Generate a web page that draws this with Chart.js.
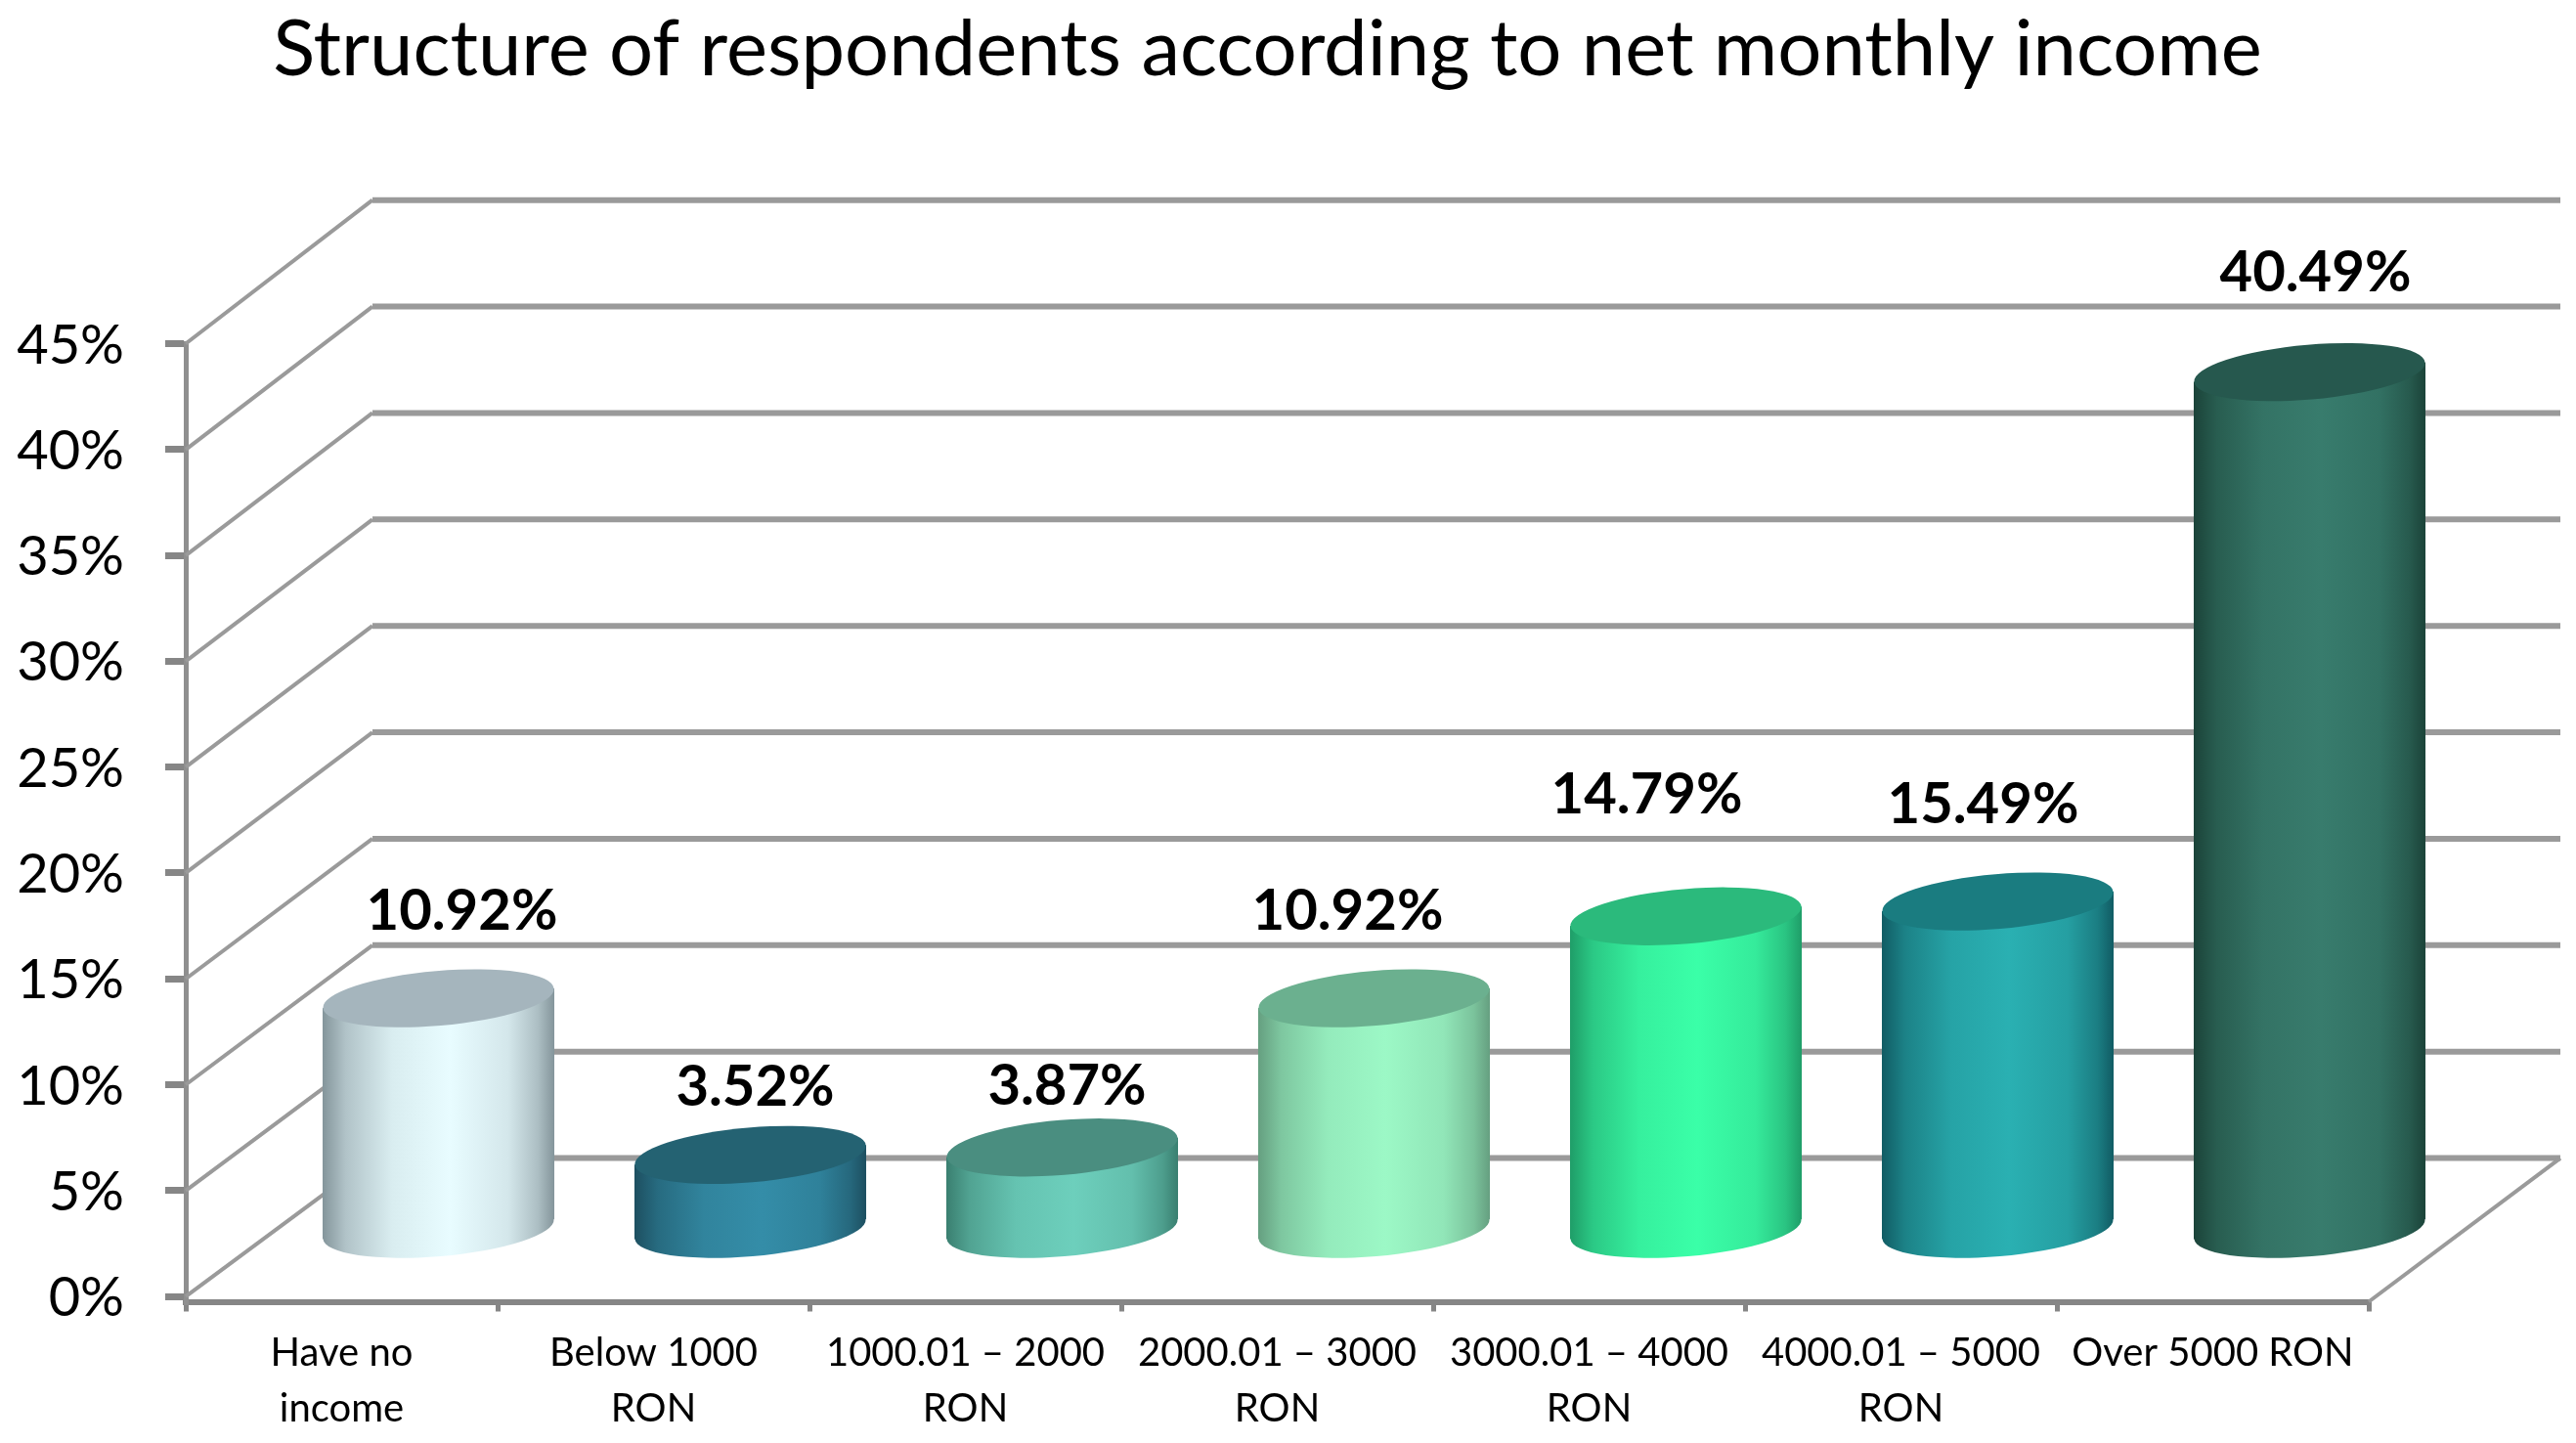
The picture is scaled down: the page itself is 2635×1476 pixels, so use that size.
<!DOCTYPE html>
<html>
<head>
<meta charset="utf-8">
<title>Structure of respondents according to net monthly income</title>
<script src="https://cdn.jsdelivr.net/npm/chart.js@4/dist/chart.umd.min.js"></script>
<style>
html, body { margin: 0; padding: 0; background: #fff; }
#wrap { width: 2635px; height: 1476px; }
</style>
</head>
<body>
<div id="wrap"><canvas id="myChart" width="2635" height="1476"></canvas></div>
<script>
const categories = [
    ['Have no', 'income'],
    ['Below 1000', 'RON'],
    ['1000.01 – 2000', 'RON'],
    ['2000.01 – 3000', 'RON'],
    ['3000.01 – 4000', 'RON'],
    ['4000.01 – 5000', 'RON'],
    'Over 5000 RON'
];
const shares = [10.92, 3.52, 3.87, 10.92, 14.79, 15.49, 40.49];
const yTicks = [0, 5, 10, 15, 20, 25, 30, 35, 40, 45];

// cylinder colours
const edgeColors = ['#84959b', '#1d4f60', '#3a7f70', '#659f80', '#1f9d68', '#115c64', '#1b4339'];
const lightColors = ['#e8fcff', '#348da8', '#6dcfbc', '#9cf8c6', '#3affa8', '#2ab0b2', '#387c6d'];
const topColors = ['#a5b5bd', '#246272', '#4a8e80', '#6bb08f', '#2bba7c', '#1a7c80', '#26584e'];

// hand placed value labels, the original chart has them a bit off the bars
const labelNudge = [[24, -89], [5, -69], [5, -62], [-27, -89], [-40, -124], [-15, -99], [6, -101]];

// back wall is slightly taller than the front axis
const back = { dx: 191, rightDx: 196, zero: -141.5, stretch: 1.0055 };
const barShift = { x: 99, y: -68.5 };
const rx = 118.5, ry = 28, tilt = -0.085;
const capDrop = 3;

function mix(a, b, t) {
    const pa = parseInt(a.slice(1), 16), pb = parseInt(b.slice(1), 16);
    const c = [16, 8, 0].map(s => {
        const va = (pa >> s) & 255, vb = (pb >> s) & 255;
        return Math.round(va + (vb - va) * t);
    });
    return `rgb(${c.join(',')})`;
}

function sideGradient(context) {
    const chart = context.chart, i = context.dataIndex;
    const cx = chart.scales.x ? chart.scales.x.getPixelForValue(i) : NaN;
    // the options get resolved once before the layout is done
    if (!Number.isFinite(cx)) return '#888';
    const g = chart.ctx.createLinearGradient(cx - rx, 0, cx + rx, 0);
    const e = edgeColors[i], l = lightColors[i];
    g.addColorStop(0, e);
    g.addColorStop(0.1, mix(e, l, 0.45));
    g.addColorStop(0.3, mix(e, l, 0.85));
    g.addColorStop(0.55, l);
    g.addColorStop(0.8, mix(e, l, 0.8));
    g.addColorStop(0.93, mix(e, l, 0.4));
    g.addColorStop(1, e);
    return g;
}

function ellipse(ctx, x, y) {
    ctx.beginPath();
    ctx.ellipse(x, y, rx, ry, tilt, 0, Math.PI * 2);
}

function bodyPath(ctx, bar, dy) {
    const l = bar.x - bar.width / 2, r = bar.x + bar.width / 2;
    ctx.moveTo(l, bar.y + dy);
    ctx.lineTo(r, bar.y - dy);
    ctx.lineTo(r, bar.base + capDrop - dy);
    ctx.lineTo(l, bar.base + capDrop + dy);
    ctx.closePath();
}

// walls and floor of the fake 3d box, placed from the value axis
const wallsPlugin = {
    id: 'walls',
    afterLayout(chart) {
        // title is centred on the whole picture minus a bit, not on the plot
        chart.titleBlock.left += 85;
        chart.titleBlock.right += 85;
    },
    beforeDatasetsDraw(chart) {
        const { ctx, scales: { y }, chartArea: a } = chart;
        const p0 = y.getPixelForValue(0);
        const backY = py => p0 + back.zero - (p0 - py) * back.stretch;
        ctx.save();
        ctx.strokeStyle = '#9a9a9a';
        ctx.lineCap = 'butt';
        yTicks.forEach(v => {
            const py = y.getPixelForValue(v);
            ctx.lineWidth = 4;
            ctx.beginPath();
            ctx.moveTo(a.left, py);
            ctx.lineTo(a.left + back.dx, backY(py));
            ctx.stroke();
            ctx.lineWidth = 6;
            ctx.beginPath();
            ctx.moveTo(a.left + back.dx, backY(py));
            ctx.lineTo(a.right + back.rightDx, backY(py));
            ctx.stroke();
        });
        // right edge of the floor
        ctx.lineWidth = 4;
        ctx.beginPath();
        ctx.moveTo(a.right, a.bottom);
        ctx.lineTo(a.right + back.rightDx, backY(p0));
        ctx.stroke();
        ctx.restore();
    }
};

const cylinderPlugin = {
    id: 'cylinders',
    beforeDatasetDraw(chart, args) {
        const ctx = chart.ctx;
        const dy = Math.sin(-tilt) * rx;
        ctx.save();
        ctx.translate(barShift.x, barShift.y);
        // bottom cap and the tilted ends, the bar body goes on top of them
        args.meta.data.forEach(bar => {
            ctx.fillStyle = bar.options.backgroundColor;
            ellipse(ctx, bar.x, bar.base + capDrop);
            ctx.fill();
            ctx.beginPath();
            bodyPath(ctx, bar, dy);
            ctx.fill();
        });
        // and cut the bar so it does not stick out at the corners
        ctx.save();
        ctx.beginPath();
        args.meta.data.forEach(bar => bodyPath(ctx, bar, dy));
        ctx.clip();
    },
    afterDatasetDraw(chart, args) {
        const ctx = chart.ctx;
        ctx.restore();
        args.meta.data.forEach((bar, i) => {
            ctx.fillStyle = topColors[i];
            ellipse(ctx, bar.x, bar.y);
            ctx.fill();
            ctx.fillStyle = '#000';
            ctx.font = 'bold 58px Lato';
            ctx.textAlign = 'center';
            ctx.textBaseline = 'middle';
            ctx.fillText(shares[i].toFixed(2) + '%', bar.x + labelNudge[i][0], bar.y + labelNudge[i][1]);
        });
        ctx.restore();
    }
};

new Chart(document.getElementById('myChart'), {
    type: 'bar',
    data: {
        labels: categories,
        datasets: [{
            data: shares,
            backgroundColor: sideGradient,
            borderWidth: 0,
            clip: false,
            barPercentage: 0.743,
            categoryPercentage: 1
        }]
    },
    plugins: [wallsPlugin, cylinderPlugin],
    options: {
        responsive: false,
        animation: false,
        layout: { padding: { top: 0, left: 0, right: 212, bottom: 0 } },
        plugins: {
            legend: { display: false },
            tooltip: { enabled: false },
            title: {
                display: true,
                text: 'Structure of respondents according to net monthly income',
                color: '#000',
                font: { family: 'Lato', size: 79.6, weight: 'normal' },
                padding: { top: 4, bottom: 252 }
            }
        },
        scales: {
            x: {
                grid: { drawOnChartArea: false, color: '#868686', lineWidth: 5, tickLength: 10 },
                border: { color: '#868686', width: 6 },
                ticks: {
                    color: '#000',
                    font: { family: 'Lato', size: 40, lineHeight: 1.42 },
                    autoSkip: false,
                    maxRotation: 0,
                    padding: 14
                },
                afterFit(scale) { scale.height = 144.5; }
            },
            y: {
                min: -0.25,
                max: 45,
                afterBuildTicks(scale) { scale.ticks = yTicks.map(value => ({ value })); },
                grid: { drawOnChartArea: false, color: '#868686', lineWidth: 7, tickLength: 21 },
                border: { color: '#8f8f8f', width: 5 },
                ticks: {
                    color: '#000',
                    font: { family: 'Lato', size: 56 },
                    padding: 42,
                    labelOffset: 2,
                    callback: v => v + '%'
                },
                afterFit(scale) { scale.width = 190; }
            }
        }
    }
});
</script>
</body>
</html>
